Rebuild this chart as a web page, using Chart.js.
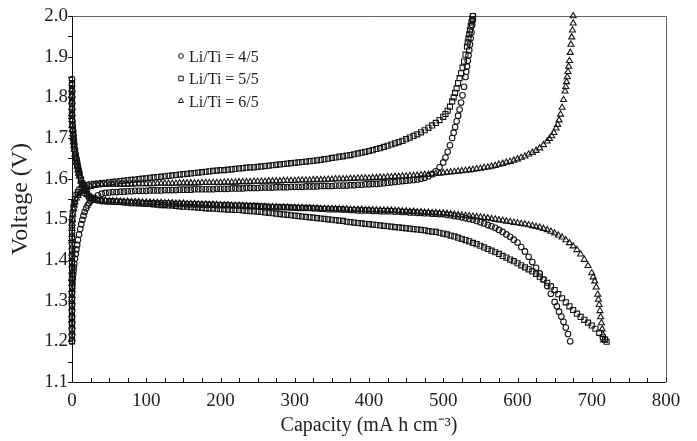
<!DOCTYPE html>
<html>
<head>
<meta charset="utf-8">
<script src="https://cdn.jsdelivr.net/npm/chart.js@4.4.1/dist/chart.umd.min.js"></script>
<style>
  html, body { margin: 0; padding: 0; background: #fff; }
  #wrap { width: 697px; height: 441px; }
</style>
</head>
<body>
<div id="wrap"><canvas id="myChart" width="697" height="441"></canvas></div>
<script>
// axis ranges / ticks
const xMin = 0, xMax = 800, xStep = 100;
const yMin = 1.1, yMax = 2.0, yStep = 0.1;
const ratioLabels = ["Li/Ti = 4/5", "Li/Ti = 5/5", "Li/Ti = 6/5"];

// Li/Ti = 4/5 (circles)
const cap45Charge = [
  0, 0, 0, 0, 0, 0, 0, 0, 0, 0.3,
  0.6, 1, 1.5, 2, 2.5, 3, 4, 5, 6, 7,
  8, 9.5, 11, 12.5, 14, 15.5, 17, 19, 21, 23,
  25, 27, 30, 35, 40, 45, 50, 55, 60, 65,
  70, 75, 80, 85, 90, 95, 100, 105, 110, 115,
  120, 125, 130, 135, 140, 145, 150, 155, 160, 165,
  170, 175, 180, 185, 190, 195, 200, 205, 210, 215,
  220, 225, 230, 235, 240, 245, 250, 255, 260, 265,
  270, 275, 280, 285, 290, 295, 300, 305, 310, 315,
  320, 325, 330, 335, 340, 345, 350, 355, 360, 365,
  370, 375, 380, 385, 390, 395, 400, 405, 410, 415,
  420, 425, 430, 435, 440, 445, 450, 455, 460, 465,
  470, 475, 480, 485, 490, 495, 500, 503, 506, 509,
  512, 514, 516, 518, 520, 522, 524, 526, 528, 530,
  531, 532, 533, 534, 535, 536, 537, 538, 539, 540,
  540];
const volt45Charge = [
  1.200, 1.215, 1.230, 1.245, 1.260, 1.275, 1.290, 1.305, 1.320, 1.332,
  1.343, 1.354, 1.364, 1.373, 1.382, 1.390, 1.403, 1.415, 1.426, 1.437,
  1.449, 1.463, 1.476, 1.488, 1.499, 1.509, 1.518, 1.527, 1.534, 1.540,
  1.545, 1.549, 1.553, 1.559, 1.563, 1.565, 1.566, 1.567, 1.567, 1.568,
  1.568, 1.569, 1.569, 1.570, 1.570, 1.570, 1.570, 1.571, 1.571, 1.571,
  1.571, 1.572, 1.572, 1.572, 1.572, 1.573, 1.573, 1.573, 1.573, 1.574,
  1.574, 1.574, 1.574, 1.574, 1.574, 1.575, 1.575, 1.575, 1.575, 1.576,
  1.576, 1.576, 1.576, 1.577, 1.577, 1.577, 1.577, 1.578, 1.578, 1.578,
  1.578, 1.579, 1.579, 1.579, 1.579, 1.580, 1.580, 1.580, 1.580, 1.581,
  1.581, 1.581, 1.581, 1.582, 1.582, 1.582, 1.582, 1.583, 1.583, 1.583,
  1.583, 1.584, 1.584, 1.585, 1.585, 1.586, 1.586, 1.587, 1.587, 1.588,
  1.589, 1.590, 1.591, 1.592, 1.593, 1.594, 1.595, 1.596, 1.597, 1.598,
  1.600, 1.602, 1.606, 1.611, 1.618, 1.628, 1.640, 1.652, 1.666, 1.682,
  1.700, 1.713, 1.727, 1.741, 1.755, 1.770, 1.787, 1.805, 1.826, 1.850,
  1.863, 1.876, 1.890, 1.903, 1.916, 1.930, 1.945, 1.960, 1.978, 1.990,
  2.000];
const cap45Disch = [
  0, 0, 0, 0, 0, 0, 0, 0.5, 1, 1.5,
  2, 2.5, 3, 4, 5, 6, 7, 8, 9, 10,
  12, 14, 16, 18, 20, 23, 26, 30, 35, 40,
  45, 50, 55, 60, 65, 70, 75, 80, 85, 90,
  95, 100, 105, 110, 115, 120, 125, 130, 135, 140,
  145, 150, 155, 160, 165, 170, 175, 180, 185, 190,
  195, 200, 205, 210, 215, 220, 225, 230, 235, 240,
  245, 250, 255, 260, 265, 270, 275, 280, 285, 290,
  295, 300, 305, 310, 315, 320, 325, 330, 335, 340,
  345, 350, 355, 360, 365, 370, 375, 380, 385, 390,
  395, 400, 405, 410, 415, 420, 425, 430, 435, 440,
  445, 450, 455, 460, 465, 470, 475, 480, 485, 490,
  495, 500, 505, 510, 515, 520, 525, 530, 535, 540,
  545, 550, 555, 560, 565, 570, 575, 580, 585, 590,
  595, 600, 605, 610, 615, 620, 625, 630, 635, 640,
  645, 650, 653, 656, 659, 662, 665, 668, 671];
const volt45Disch = [
  1.845, 1.830, 1.815, 1.800, 1.785, 1.770, 1.755, 1.742, 1.730, 1.718,
  1.707, 1.696, 1.686, 1.672, 1.660, 1.650, 1.640, 1.631, 1.622, 1.614,
  1.601, 1.590, 1.580, 1.572, 1.565, 1.558, 1.553, 1.549, 1.547, 1.545,
  1.545, 1.544, 1.544, 1.543, 1.543, 1.542, 1.542, 1.541, 1.541, 1.541,
  1.540, 1.540, 1.540, 1.540, 1.539, 1.539, 1.539, 1.539, 1.538, 1.538,
  1.538, 1.538, 1.537, 1.537, 1.537, 1.537, 1.536, 1.536, 1.536, 1.536,
  1.535, 1.535, 1.535, 1.535, 1.534, 1.534, 1.534, 1.534, 1.533, 1.533,
  1.533, 1.533, 1.532, 1.532, 1.531, 1.531, 1.530, 1.530, 1.530, 1.530,
  1.529, 1.529, 1.528, 1.528, 1.528, 1.528, 1.527, 1.527, 1.526, 1.526,
  1.525, 1.525, 1.525, 1.525, 1.524, 1.524, 1.523, 1.523, 1.522, 1.522,
  1.522, 1.522, 1.521, 1.521, 1.520, 1.520, 1.520, 1.520, 1.519, 1.519,
  1.518, 1.518, 1.517, 1.517, 1.516, 1.516, 1.515, 1.515, 1.514, 1.514,
  1.513, 1.513, 1.511, 1.510, 1.508, 1.507, 1.505, 1.503, 1.501, 1.499,
  1.496, 1.493, 1.490, 1.486, 1.483, 1.479, 1.474, 1.469, 1.463, 1.457,
  1.450, 1.443, 1.432, 1.421, 1.408, 1.395, 1.381, 1.367, 1.352, 1.336,
  1.317, 1.297, 1.286, 1.273, 1.261, 1.248, 1.234, 1.218, 1.200];

// Li/Ti = 5/5 (squares)
const cap55Charge = [
  0, 0, 0, 0, 0, 0, 0, 0, 0, 0,
  0, 0, 0, 0, 0, 0, 0, 0, 0, 0,
  0.5, 1, 2, 3, 4, 6, 8, 10, 13, 16,
  20, 25, 30, 35, 40, 45, 50, 55, 60, 65,
  70, 75, 80, 85, 90, 95, 100, 105, 110, 115,
  120, 125, 130, 135, 140, 145, 150, 155, 160, 165,
  170, 175, 180, 185, 190, 195, 200, 205, 210, 215,
  220, 225, 230, 235, 240, 245, 250, 255, 260, 265,
  270, 275, 280, 285, 290, 295, 300, 305, 310, 315,
  320, 325, 330, 335, 340, 345, 350, 355, 360, 365,
  370, 375, 380, 385, 390, 395, 400, 405, 410, 415,
  420, 425, 430, 435, 440, 445, 450, 455, 460, 465,
  470, 475, 480, 485, 490, 495, 500, 503, 506, 509,
  512, 514, 516, 518, 520, 522, 524, 526, 528, 530,
  532, 533, 534, 535, 536, 537, 538, 539, 540];
const volt55Charge = [
  1.200, 1.215, 1.230, 1.245, 1.260, 1.275, 1.290, 1.305, 1.320, 1.335,
  1.350, 1.365, 1.380, 1.395, 1.410, 1.425, 1.440, 1.455, 1.470, 1.485,
  1.500, 1.515, 1.530, 1.540, 1.550, 1.560, 1.567, 1.573, 1.578, 1.582,
  1.584, 1.586, 1.587, 1.588, 1.589, 1.590, 1.591, 1.592, 1.593, 1.594,
  1.595, 1.596, 1.597, 1.598, 1.599, 1.600, 1.601, 1.602, 1.603, 1.604,
  1.605, 1.606, 1.607, 1.608, 1.609, 1.610, 1.611, 1.612, 1.613, 1.614,
  1.615, 1.616, 1.617, 1.618, 1.619, 1.620, 1.621, 1.621, 1.622, 1.623,
  1.624, 1.625, 1.626, 1.627, 1.628, 1.628, 1.629, 1.630, 1.631, 1.632,
  1.633, 1.634, 1.635, 1.636, 1.637, 1.638, 1.639, 1.640, 1.641, 1.642,
  1.643, 1.644, 1.645, 1.646, 1.648, 1.649, 1.651, 1.652, 1.654, 1.655,
  1.657, 1.658, 1.660, 1.662, 1.664, 1.666, 1.668, 1.670, 1.673, 1.675,
  1.678, 1.681, 1.684, 1.687, 1.690, 1.693, 1.697, 1.701, 1.705, 1.709,
  1.714, 1.719, 1.725, 1.731, 1.737, 1.744, 1.752, 1.759, 1.767, 1.777,
  1.790, 1.800, 1.811, 1.822, 1.835, 1.847, 1.859, 1.873, 1.888, 1.905,
  1.925, 1.935, 1.945, 1.955, 1.965, 1.975, 1.984, 1.992, 2.000];
const cap55Disch = [
  0, 0, 0, 0, 0, 0, 0, 0.5, 1, 1.5,
  2, 2.5, 3, 4, 5, 6, 7, 8, 9, 10,
  12, 14, 16, 18, 20, 23, 26, 30, 35, 40,
  45, 50, 55, 60, 65, 70, 75, 80, 85, 90,
  95, 100, 105, 110, 115, 120, 125, 130, 135, 140,
  145, 150, 155, 160, 165, 170, 175, 180, 185, 190,
  195, 200, 205, 210, 215, 220, 225, 230, 235, 240,
  245, 250, 255, 260, 265, 270, 275, 280, 285, 290,
  295, 300, 305, 310, 315, 320, 325, 330, 335, 340,
  345, 350, 355, 360, 365, 370, 375, 380, 385, 390,
  395, 400, 405, 410, 415, 420, 425, 430, 435, 440,
  445, 450, 455, 460, 465, 470, 475, 480, 485, 490,
  495, 500, 505, 510, 515, 520, 525, 530, 535, 540,
  545, 550, 555, 560, 565, 570, 575, 580, 585, 590,
  595, 600, 605, 610, 615, 620, 625, 630, 635, 640,
  645, 650, 655, 660, 665, 670, 675, 680, 685, 690,
  695, 700, 705, 710, 715, 718, 720];
const volt55Disch = [
  1.835, 1.820, 1.805, 1.790, 1.775, 1.760, 1.745, 1.733, 1.721, 1.710,
  1.699, 1.689, 1.679, 1.666, 1.654, 1.644, 1.634, 1.625, 1.617, 1.609,
  1.596, 1.586, 1.576, 1.569, 1.562, 1.556, 1.551, 1.548, 1.547, 1.546,
  1.545, 1.544, 1.544, 1.543, 1.543, 1.542, 1.541, 1.540, 1.540, 1.539,
  1.539, 1.538, 1.538, 1.537, 1.536, 1.535, 1.535, 1.534, 1.534, 1.533,
  1.532, 1.531, 1.531, 1.530, 1.530, 1.529, 1.528, 1.527, 1.527, 1.526,
  1.526, 1.525, 1.525, 1.524, 1.524, 1.523, 1.523, 1.522, 1.521, 1.520,
  1.520, 1.519, 1.518, 1.517, 1.516, 1.515, 1.514, 1.513, 1.512, 1.511,
  1.510, 1.509, 1.508, 1.507, 1.506, 1.505, 1.504, 1.503, 1.502, 1.501,
  1.500, 1.499, 1.498, 1.497, 1.496, 1.494, 1.493, 1.492, 1.491, 1.490,
  1.489, 1.488, 1.487, 1.486, 1.485, 1.484, 1.483, 1.482, 1.481, 1.480,
  1.479, 1.478, 1.477, 1.476, 1.475, 1.474, 1.473, 1.471, 1.470, 1.469,
  1.467, 1.465, 1.463, 1.460, 1.458, 1.455, 1.452, 1.449, 1.446, 1.442,
  1.439, 1.435, 1.431, 1.427, 1.423, 1.419, 1.415, 1.410, 1.406, 1.401,
  1.397, 1.392, 1.387, 1.382, 1.377, 1.372, 1.366, 1.359, 1.352, 1.344,
  1.335, 1.326, 1.316, 1.306, 1.296, 1.286, 1.277, 1.268, 1.260, 1.253,
  1.246, 1.239, 1.231, 1.221, 1.210, 1.204, 1.199];

// Li/Ti = 6/5 (triangles)
const cap65Charge = [
  0, 0, 0, 0, 0, 0, 0, 0, 0, 0,
  0, 0, 0, 0, 0, 0, 0, 0, 0, 0,
  0.5, 1, 2, 3, 4, 6, 8, 10, 13, 16,
  20, 25, 30, 35, 40, 45, 50, 55, 60, 65,
  70, 75, 80, 85, 90, 95, 100, 105, 110, 115,
  120, 125, 130, 135, 140, 145, 150, 155, 160, 165,
  170, 175, 180, 185, 190, 195, 200, 205, 210, 215,
  220, 225, 230, 235, 240, 245, 250, 255, 260, 265,
  270, 275, 280, 285, 290, 295, 300, 305, 310, 315,
  320, 325, 330, 335, 340, 345, 350, 355, 360, 365,
  370, 375, 380, 385, 390, 395, 400, 405, 410, 415,
  420, 425, 430, 435, 440, 445, 450, 455, 460, 465,
  470, 475, 480, 485, 490, 495, 500, 505, 510, 515,
  520, 525, 530, 535, 540, 545, 550, 555, 560, 565,
  570, 575, 580, 585, 590, 595, 600, 605, 610, 615,
  620, 625, 630, 635, 640, 643, 646, 649, 652, 654,
  656, 658, 660, 662, 664, 665, 666, 667, 668, 669,
  670, 671, 672, 673, 674, 675, 675];
const volt65Charge = [
  1.207, 1.222, 1.237, 1.252, 1.267, 1.282, 1.297, 1.312, 1.327, 1.342,
  1.357, 1.372, 1.387, 1.402, 1.417, 1.432, 1.447, 1.462, 1.477, 1.490,
  1.500, 1.512, 1.525, 1.535, 1.543, 1.552, 1.558, 1.563, 1.568, 1.573,
  1.577, 1.580, 1.583, 1.584, 1.585, 1.585, 1.585, 1.586, 1.586, 1.586,
  1.586, 1.586, 1.586, 1.587, 1.587, 1.587, 1.587, 1.587, 1.587, 1.588,
  1.588, 1.588, 1.588, 1.588, 1.588, 1.589, 1.589, 1.589, 1.589, 1.589,
  1.589, 1.590, 1.590, 1.590, 1.590, 1.590, 1.590, 1.591, 1.591, 1.591,
  1.591, 1.592, 1.592, 1.592, 1.592, 1.593, 1.593, 1.593, 1.593, 1.594,
  1.594, 1.594, 1.594, 1.595, 1.595, 1.595, 1.595, 1.596, 1.596, 1.596,
  1.596, 1.597, 1.597, 1.597, 1.597, 1.598, 1.598, 1.599, 1.599, 1.599,
  1.599, 1.600, 1.600, 1.601, 1.601, 1.601, 1.601, 1.602, 1.602, 1.603,
  1.603, 1.604, 1.604, 1.605, 1.605, 1.606, 1.606, 1.607, 1.607, 1.608,
  1.609, 1.610, 1.610, 1.611, 1.612, 1.613, 1.614, 1.615, 1.616, 1.617,
  1.618, 1.619, 1.620, 1.621, 1.622, 1.624, 1.625, 1.627, 1.628, 1.630,
  1.632, 1.635, 1.637, 1.640, 1.642, 1.645, 1.648, 1.652, 1.655, 1.660,
  1.664, 1.669, 1.675, 1.683, 1.692, 1.698, 1.705, 1.713, 1.724, 1.733,
  1.744, 1.758, 1.775, 1.794, 1.815, 1.826, 1.838, 1.850, 1.863, 1.876,
  1.890, 1.910, 1.930, 1.948, 1.965, 1.982, 2.000];
const cap65Disch = [
  0, 0, 0, 0, 0, 0, 0, 0.5, 1, 1.5,
  2, 2.5, 3, 4, 5, 6, 7, 8, 9, 10,
  12, 14, 16, 18, 20, 23, 26, 30, 35, 40,
  45, 50, 55, 60, 65, 70, 75, 80, 85, 90,
  95, 100, 105, 110, 115, 120, 125, 130, 135, 140,
  145, 150, 155, 160, 165, 170, 175, 180, 185, 190,
  195, 200, 205, 210, 215, 220, 225, 230, 235, 240,
  245, 250, 255, 260, 265, 270, 275, 280, 285, 290,
  295, 300, 305, 310, 315, 320, 325, 330, 335, 340,
  345, 350, 355, 360, 365, 370, 375, 380, 385, 390,
  395, 400, 405, 410, 415, 420, 425, 430, 435, 440,
  445, 450, 455, 460, 465, 470, 475, 480, 485, 490,
  495, 500, 505, 510, 515, 520, 525, 530, 535, 540,
  545, 550, 555, 560, 565, 570, 575, 580, 585, 590,
  595, 600, 605, 610, 615, 620, 625, 630, 635, 640,
  645, 650, 655, 660, 665, 670, 675, 680, 685, 690,
  695, 700, 702, 704, 706, 708, 709, 710, 711, 712,
  713, 714, 715, 716];
const volt65Disch = [
  1.820, 1.805, 1.790, 1.775, 1.760, 1.745, 1.730, 1.720, 1.710, 1.700,
  1.690, 1.681, 1.672, 1.660, 1.649, 1.639, 1.630, 1.621, 1.613, 1.606,
  1.594, 1.584, 1.575, 1.568, 1.562, 1.556, 1.551, 1.548, 1.547, 1.546,
  1.546, 1.545, 1.545, 1.545, 1.544, 1.544, 1.544, 1.543, 1.543, 1.543,
  1.542, 1.542, 1.542, 1.541, 1.541, 1.541, 1.540, 1.540, 1.540, 1.539,
  1.539, 1.539, 1.538, 1.538, 1.538, 1.537, 1.537, 1.537, 1.536, 1.536,
  1.536, 1.535, 1.535, 1.535, 1.534, 1.534, 1.534, 1.533, 1.533, 1.532,
  1.532, 1.531, 1.531, 1.531, 1.530, 1.530, 1.530, 1.529, 1.529, 1.529,
  1.528, 1.528, 1.528, 1.528, 1.527, 1.527, 1.527, 1.527, 1.526, 1.526,
  1.526, 1.526, 1.525, 1.525, 1.525, 1.525, 1.524, 1.524, 1.524, 1.524,
  1.523, 1.523, 1.523, 1.523, 1.522, 1.522, 1.522, 1.522, 1.521, 1.521,
  1.520, 1.520, 1.519, 1.519, 1.518, 1.518, 1.517, 1.517, 1.516, 1.516,
  1.515, 1.515, 1.514, 1.513, 1.512, 1.511, 1.510, 1.509, 1.508, 1.507,
  1.506, 1.505, 1.504, 1.503, 1.501, 1.500, 1.498, 1.497, 1.495, 1.494,
  1.492, 1.491, 1.489, 1.488, 1.486, 1.484, 1.482, 1.480, 1.477, 1.474,
  1.470, 1.466, 1.461, 1.456, 1.449, 1.442, 1.434, 1.425, 1.414, 1.401,
  1.386, 1.368, 1.358, 1.348, 1.333, 1.315, 1.303, 1.290, 1.275, 1.260,
  1.245, 1.230, 1.216, 1.203];

const markerColor = "#151515";
const serif = '"Liberation Serif", "Times New Roman", serif';

function toPoints(xs, ys) {
    return xs.map(function (x, i) { return { x: x, y: ys[i] }; });
}

function curve(xs, ys, style, radius) {
    return {
        data: toPoints(xs, ys),
        pointStyle: style,
        pointRadius: radius,
        pointBorderWidth: 1.1,
        pointBorderColor: markerColor,
        pointBackgroundColor: "rgba(255,255,255,0)",
        showLine: false,
        clip: false
    };
}

// box + minor ticks, drawn under the markers
const frameTicks = {
    id: "frameTicks",
    beforeDatasetsDraw(chart) {
        const { ctx, chartArea: a, scales: { x, y } } = chart;
        ctx.save();
        ctx.lineWidth = 1;
        ctx.strokeStyle = "#666";
        ctx.beginPath();
        ctx.moveTo(a.left, a.top + 0.5);
        ctx.lineTo(a.right + 0.5, a.top + 0.5);
        ctx.lineTo(a.right + 0.5, a.bottom);
        ctx.stroke();

        ctx.strokeStyle = "#111";
        ctx.beginPath();
        ctx.moveTo(a.left + 0.5, a.top);
        ctx.lineTo(a.left + 0.5, a.bottom + 0.5);
        ctx.lineTo(a.right, a.bottom + 0.5);
        for (let v = xMin; v <= xMax; v += 25) {
            const px = Math.round(x.getPixelForValue(v)) + 0.5;
            ctx.moveTo(px, a.bottom);
            ctx.lineTo(px, a.bottom - 4);
        }
        for (let k = 0; k <= 18; k++) {
            const py = Math.round(y.getPixelForValue(yMin + k * 0.05)) + 0.5;
            ctx.moveTo(a.left, py);
            ctx.lineTo(a.left - 4, py);
        }
        ctx.stroke();
        ctx.restore();
    }
};

// legend inside the plot, top left
const markerStyles = ["circle", "rect", "triangle"];
const legendRadius = [2.4, 3.2, 3.0];
const ratioLegend = {
    id: "ratioLegend",
    afterDraw(chart) {
        const { ctx, chartArea: a } = chart;
        ctx.save();
        ratioLabels.forEach(function (label, i) {
            const cx = a.left + 109;
            const cy = a.top + 40 + i * 22.5;
            ctx.fillStyle = "#fff";
            ctx.strokeStyle = markerColor;
            ctx.lineWidth = 1;
            Chart.helpers.drawPoint(ctx, { pointStyle: markerStyles[i], radius: legendRadius[i], borderWidth: 1, rotation: 0 }, cx, cy);
            ctx.fillStyle = "#222";
            ctx.font = "16px " + serif;
            ctx.textBaseline = "alphabetic";
            ctx.textAlign = "left";
            ctx.fillText(label, cx + 8, cy + 5.5);
        });
        ctx.restore();
    }
};

new Chart(document.getElementById("myChart"), {
    type: "scatter",
    data: {
        datasets: [
            curve(cap45Charge, volt45Charge, "circle", 2.8),
            curve(cap45Disch, volt45Disch, "circle", 2.8),
            curve(cap55Charge, volt55Charge, "rect", 3.6),
            curve(cap55Disch, volt55Disch, "rect", 3.6),
            curve(cap65Charge, volt65Charge, "triangle", 3.5),
            curve(cap65Disch, volt65Disch, "triangle", 3.5)
        ]
    },
    options: {
        responsive: false,
        animation: false,
        devicePixelRatio: 1,
        events: [],
        layout: { padding: { top: 16, right: 31, left: 0, bottom: 0 } },
        plugins: {
            legend: { display: false },
            tooltip: { enabled: false }
        },
        scales: {
            x: {
                type: "linear",
                min: xMin,
                max: xMax,
                afterFit: function (s) { s.height = 59; },
                grid: { display: false, drawTicks: false },
                border: { display: false },
                ticks: {
                    stepSize: xStep,
                    color: "#222",
                    padding: 8,
                    maxRotation: 0,
                    font: { family: serif, size: 19 }
                },
                title: {
                    display: true,
                    text: "Capacity (mA h cm\u207B\u00B3)",
                    color: "#222",
                    font: { family: serif, size: 20 },
                    padding: { top: 0, bottom: 3 }
                }
            },
            y: {
                type: "linear",
                min: yMin,
                max: yMax,
                afterFit: function (s) { s.width = 72; },
                grid: { display: false, drawTicks: false },
                border: { display: false },
                ticks: {
                    stepSize: yStep,
                    color: "#222",
                    padding: 4,
                    font: { family: serif, size: 19 },
                    callback: function (v) { return v.toFixed(1); }
                },
                title: {
                    display: true,
                    text: "Voltage (V)",
                    color: "#222",
                    font: { family: serif, size: 24 },
                    padding: { top: 6, bottom: 0 }
                }
            }
        }
    },
    plugins: [frameTicks, ratioLegend]
});
</script>
</body>
</html>
